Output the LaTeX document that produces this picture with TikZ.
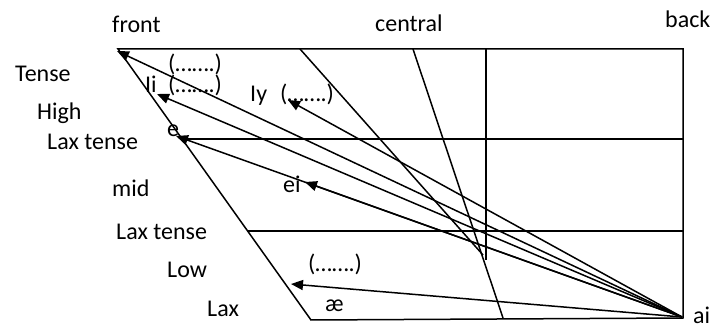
\documentclass[tikz,border=0pt]{standalone}
\usepackage{fontspec}
\setmainfont{Carlito}
\usepackage{tikz}
\usetikzlibrary{arrows.meta}

\begin{document}
\begin{tikzpicture}[x=1pt,y=-1pt,
    lbl/.style={anchor=base west,inner sep=0pt,font=\fontsize{24}{28}\selectfont},
    edge/.style={line width=1.5pt},
    glide/.style={line width=1.5pt,-{Triangle[length=12pt,width=10pt]}}]
        \useasboundingbox (0,0) rectangle (712,328);
        % Chart corners
        \coordinate (tl) at (118,49);
        \coordinate (tr) at (683,49);
        \coordinate (br) at (683,318);
        \coordinate (bl) at (311,320);
        \coordinate (ai) at (682,317);
        % Chart frame
        \draw[edge] (tl) -- (tr) -- (br) -- (bl) -- cycle;
        % Height divisions
        \coordinate (midL) at (182,139);
        \coordinate (midR) at (683,139);
        \coordinate (lowL) at (248,231);
        \coordinate (lowR) at (683,231);
        \draw[edge] (midL) -- (midR);
        \draw[edge] (lowL) -- (lowR);
        % Central and back divisions
        \coordinate (cenA) at (300,49);
        \coordinate (cenB) at (483,255);
        \coordinate (cenC) at (413,49);
        \coordinate (cenD) at (503,318);
        \coordinate (bkT) at (486,49);
        \coordinate (bkB) at (486,260);
        \draw[edge] (cenA) -- (cenB);
        \draw[edge] (cenC) -- (cenD);
        \draw[edge] (bkT) -- (bkB);
        % Glide targets
        \coordinate (toTense) at (117,51);
        \coordinate (toIi) at (157,94);
        \coordinate (toE) at (176,136);
        \coordinate (toIy) at (288,100);
        \coordinate (toEi) at (305,182);
        \coordinate (toAe) at (291,284);
        \foreach \t in {toTense,toIi,toE,toIy,toEi,toAe}
          \draw[glide] (ai) -- (\t);
        % Column labels
        \node[lbl] (front) at (112,33) {front};
        \node[lbl] (central) at (375,32) {central};
        \node[lbl] (back) at (665,28) {back};
        % Row labels
        \node[lbl] (tense) at (15,82) {Tense};
        \node[lbl] (high) at (37,120) {High};
        \node[lbl] (laxtenseA) at (47,150) {Lax tense};
        \node[lbl] (mid) at (112,197) {mid};
        \node[lbl] (laxtenseB) at (116,240) {Lax tense};
        \node[lbl] (low) at (167,278) {Low};
        \node[lbl] (lax) at (207,317) {Lax};
        % Vowel labels
        \node[lbl] (dotsA) at (168,72) {(…….)};
        \node[lbl] (dotsB) at (168,93) {(…….)};
        \node[lbl] (ii) at (145,93) {Ii};
        \node[lbl] (e) at (167,137) {e};
        \node[lbl] (iy) at (250,102) {Iy};
        \node[lbl] (dotsC) at (280,102) {(…….)};
        \node[lbl] (ei) at (283,193) {ei};
        \node[lbl] (dotsD) at (308,272) {(…….)};
        \node[lbl] (ae) at (325,312) {æ};
        \node[lbl] (ailbl) at (693,324) {ai};
      \end{tikzpicture}
\end{document}
